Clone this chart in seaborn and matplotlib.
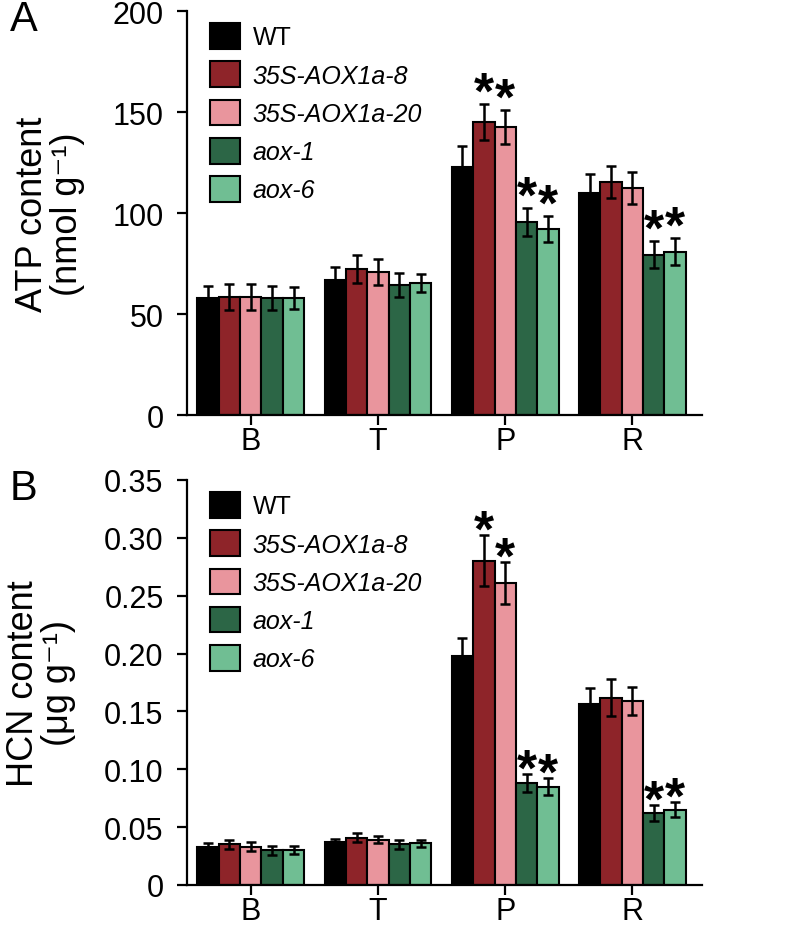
import numpy as np
import pandas as pd
import seaborn as sns
from matplotlib import pyplot as plt
from matplotlib.patches import Patch

stages = ["B", "T", "P", "R"]
genotypes = ["WT", "35S-AOX1a-8", "35S-AOX1a-20", "aox-1", "aox-6"]
colors = ["#000000", "#8E2429", "#E9959D", "#2C6646", "#70BE93"]

# ATP content (nmol g-1), one list per genotype over stages B, T, P, R
atp_wt = [58, 67, 123, 110]
atp_oe8 = [58.5, 72.5, 145, 115.5]
atp_oe20 = [58.5, 71, 142.5, 112.5]
atp_aox1 = [58, 64.5, 95.5, 79.5]
atp_aox6 = [58, 65.5, 92, 81]
atp_wt_err = [6, 6.5, 10, 9.5]
atp_oe8_err = [6.6, 7, 9, 8]
atp_oe20_err = [6.3, 6.5, 8.5, 8]
atp_aox1_err = [6, 6, 7, 6.5]
atp_aox6_err = [5.5, 4.5, 6.5, 6.5]

# HCN content (ug g-1)
hcn_wt = [0.033, 0.037, 0.198, 0.156]
hcn_oe8 = [0.035, 0.041, 0.280, 0.162]
hcn_oe20 = [0.033, 0.039, 0.261, 0.159]
hcn_aox1 = [0.030, 0.035, 0.088, 0.062]
hcn_aox6 = [0.030, 0.036, 0.085, 0.065]
hcn_wt_err = [0.003, 0.0025, 0.015, 0.0145]
hcn_oe8_err = [0.0035, 0.004, 0.022, 0.016]
hcn_oe20_err = [0.004, 0.003, 0.018, 0.012]
hcn_aox1_err = [0.004, 0.0035, 0.008, 0.007]
hcn_aox6_err = [0.0033, 0.0032, 0.0075, 0.0063]

# significance marks (genotype index, stage index)
sig_atp = [(1, 2), (2, 2), (3, 2), (4, 2), (3, 3), (4, 3)]
sig_hcn = [(1, 2), (2, 2), (3, 2), (4, 2), (3, 3), (4, 3)]

sns.set_style("ticks")
plt.rcParams["font.family"] = ["Liberation Sans", "DejaVu Sans"]
for key in ["text.color", "axes.labelcolor", "xtick.color", "ytick.color", "axes.edgecolor"]:
	plt.rcParams[key] = "black"


def long_table(values):
	rows = []
	for g, vals in zip(genotypes, values):
		for s, v in zip(stages, vals):
			rows.append({"stage": s, "genotype": g, "value": v})
	return pd.DataFrame(rows)


def panel(ax, values, errs, sigs, ylim, yticks, yticklabels, ylabel, letter, star_off):
	df = long_table(values)
	sns.barplot(data=df, x="stage", y="value", hue="genotype", order=stages,
		hue_order=genotypes, palette=colors, width=0.84, errorbar=None,
		edgecolor="black", linewidth=1.5, legend=False, ax=ax, saturation=1)
	bars = list(ax.containers)

	for j, cont in enumerate(bars):
		xs = [b.get_x() + b.get_width() / 2 for b in cont]
		hs = [b.get_height() for b in cont]
		ax.errorbar(xs, hs, yerr=errs[j], fmt="none", ecolor="black",
			elinewidth=1.8, capsize=3.5, capthick=1.8, zorder=5)

	for j, i in sigs:
		b = bars[j][i]
		top = b.get_height() + errs[j][i]
		ax.annotate("*", (b.get_x() + b.get_width() / 2, top), xytext=(0, star_off),
			textcoords="offset points", ha="center", va="baseline",
			fontsize=37, fontweight="bold")

	ax.set_xlim(-0.5, 3.55)
	ax.set_ylim(*ylim)
	ax.set_yticks(yticks)
	ax.set_yticklabels(yticklabels)
	ax.set_xlabel("")
	ax.set_ylabel(ylabel, fontsize=26, labelpad=20, linespacing=1.0)
	sns.despine(ax=ax)
	for sp in ["left", "bottom"]:
		ax.spines[sp].set_linewidth(1.6)
	ax.tick_params(axis="both", labelsize=22, width=1.6, length=7)
	ax.tick_params(axis="y", pad=10)
	ax.tick_params(axis="x", pad=1)

	handles = [Patch(facecolor=c, edgecolor="black", linewidth=1.5) for c in colors]
	leg = ax.legend(handles, genotypes, loc="upper left", bbox_to_anchor=(0.045, 0.97),
		frameon=False, fontsize=18, handlelength=1.2, handleheight=1.2,
		handletextpad=0.5, labelspacing=0.48, borderpad=0, borderaxespad=0)
	for t in leg.get_texts()[1:]:
		t.set_style("italic")

	ax.figure.text(0.012, ax.get_position().y1 + 0.013, letter, fontsize=30, va="top")


fig = plt.figure(figsize=(8, 9.29), dpi=100)
ax1 = fig.add_axes([0.234, 0.552, 0.644, 0.435])
ax2 = fig.add_axes([0.234, 0.0463, 0.644, 0.436])

panel(ax1, [atp_wt, atp_oe8, atp_oe20, atp_aox1, atp_aox6],
	[atp_wt_err, atp_oe8_err, atp_oe20_err, atp_aox1_err, atp_aox6_err],
	sig_atp, (0, 200), [0, 50, 100, 150, 200], ["0", "50", "100", "150", "200"],
	"ATP content\n(nmol g⁻¹)", "A", -2.5)
panel(ax2, [hcn_wt, hcn_oe8, hcn_oe20, hcn_aox1, hcn_aox6],
	[hcn_wt_err, hcn_oe8_err, hcn_oe20_err, hcn_aox1_err, hcn_aox6_err],
	sig_hcn, (0, 0.35), np.arange(0, 0.351, 0.05),
	["0", "0.05", "0.10", "0.15", "0.20", "0.25", "0.30", "0.35"],
	"HCN content\n(μg g⁻¹)", "B", -7.5)

fig.savefig("out.png", dpi=100)
